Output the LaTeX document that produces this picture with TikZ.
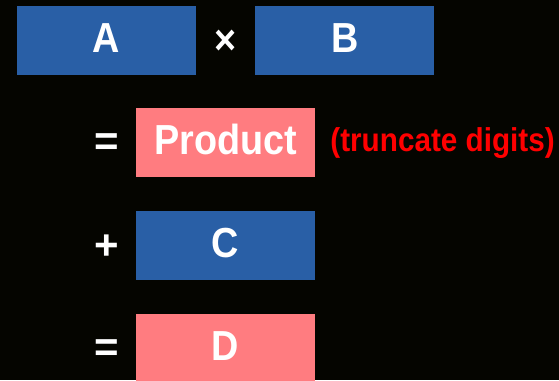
\documentclass[tikz,border=0pt]{standalone}
\usepackage{fontspec}
\setmainfont{Liberation Sans}
\usetikzlibrary{positioning}

\definecolor{boxblue}{RGB}{41,95,166}
\definecolor{boxpink}{RGB}{255,124,128}
\definecolor{bgdark}{RGB}{5,5,0}

\newcommand{\condtext}[1]{\scalebox{0.9}[1]{#1}}

\tikzset{
  operand/.style={minimum width=179pt, minimum height=69pt, inner sep=0pt,
    text=white, font=\fontsize{42}{42}\selectfont\bfseries,
    text height=30pt, text depth=6pt},
  bluebox/.style={operand, fill=boxblue},
  pinkbox/.style={operand, fill=boxpink},
  op/.style={text=white, inner sep=0pt, font=\fontsize{42}{42}\selectfont\bfseries, yshift=-2pt},
  note/.style={text=red, inner sep=0pt, font=\fontsize{33}{33}\selectfont\bfseries}
}

\begin{document}
\begin{tikzpicture}[x=1pt, y=1pt]
    \fill[bgdark] (0,0) rectangle (559,380);
    \useasboundingbox (0,0) rectangle (559,380);

    \node[bluebox] (A) at (106.5,339.5) {\condtext{A}};
    \node[bluebox] [right=59pt of A] (B) {\condtext{B}};
    \node[pinkbox] [below=33pt of A, xshift=119pt] (P) {\condtext{Product}};
    \node[note] [right=15pt of P] (trunc) {\condtext{(truncate digits)}};
    \node[bluebox] [below=33pt of P] (C) {\condtext{C}};
    \node[pinkbox] [below=34pt of C] (D) {\condtext{D}};

    % operators
    \node[op] (times) at (P |- A) {\condtext{×}};
    \node[op] (eq1) at (A |- P) {=};
    \node[op] (plus) at (A |- C) {+};
    \node[op] (eq2) at (A |- D) {=};
\end{tikzpicture}
\end{document}
